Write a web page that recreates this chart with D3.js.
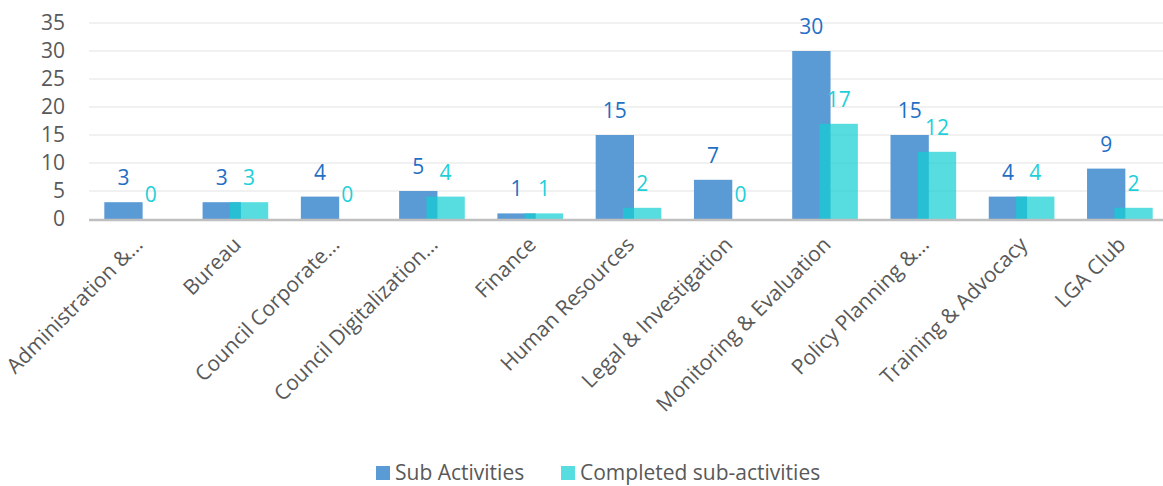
<!DOCTYPE html>
<html>
<head>
<meta charset="utf-8">
<script src="https://cdn.jsdelivr.net/npm/d3@7"></script>
<style>
  body { margin: 0; background: #fff; }
  svg { display: block; font-family: "Open Sans", sans-serif; }
</style>
</head>
<body>
<svg id="plot"></svg>
<script>
const WIDTH = 1163;
const HEIGHT = 486;

const categories = ['Administration &\u2026', 'Bureau', 'Council Corporate\u2026', 'Council Digitalization\u2026',
    'Finance', 'Human Resources', 'Legal & Investigation', 'Monitoring & Evaluation',
    'Policy Planning &\u2026', 'Training & Advocacy', 'LGA Club'];
const subActivities = [3, 3, 4, 5, 1, 15, 7, 30, 15, 4, 9];
const completed = [0, 3, 0, 4, 1, 2, 0, 17, 12, 4, 2];
const yTicks = [0, 5, 10, 15, 20, 25, 30, 35];
const seriesNames = ['Sub Activities', 'Completed sub-activities'];

const BLUE = '#5b9bd5';
const CYAN = '#10ced3';

function draw() {
    let chart = d3.select('#plot')
        .attr('width', WIDTH)
        .attr('height', HEIGHT);

    let x = d3.scaleBand()
        .domain(categories)
        .range([88, 1169]);

    let y = d3.scaleLinear()
        .domain([0, 35])
        .range([219, 23]);

    // gridlines
    chart.append('g')
        .selectAll('line')
        .data(yTicks.slice(1))
        .enter().append('line')
            .attr('x1', 89)
            .attr('x2', WIDTH)
            .attr('y1', d => y(d))
            .attr('y2', d => y(d))
            .attr('stroke', '#ececec')
            .attr('stroke-width', 1.5);

    // y axis labels
    let yAxis = chart.append('g')
        .attr('transform', 'translate(65, 0)')
        .call(d3.axisLeft(y).tickValues(yTicks).tickSize(0).tickPadding(0));
    yAxis.select('.domain').remove();
    yAxis.selectAll('text')
        .attr('font-family', '"Open Sans", sans-serif')
        .attr('font-size', 21)
        .attr('fill', '#595959');

    let bw = x.bandwidth() * 0.39;
    let overlap = 11;
    let blueX = d => x(d) + x.bandwidth() / 2 - bw + overlap / 2;
    let cyanX = d => x(d) + x.bandwidth() / 2 - overlap / 2;

    // bars
    chart.append('g')
        .selectAll('rect')
        .data(categories)
        .enter().append('rect')
            .attr('x', d => blueX(d))
            .attr('y', (d, i) => y(subActivities[i]))
            .attr('width', bw)
            .attr('height', (d, i) => y(0) - y(subActivities[i]))
            .attr('fill', BLUE);

    chart.append('g')
        .selectAll('rect')
        .data(categories)
        .enter().append('rect')
            .attr('x', d => cyanX(d))
            .attr('y', (d, i) => y(completed[i]))
            .attr('width', bw)
            .attr('height', (d, i) => y(0) - y(completed[i]))
            .attr('fill', CYAN)
            .attr('fill-opacity', 0.7);

    // value labels
    chart.append('g')
        .selectAll('text')
        .data(categories)
        .enter().append('text')
            .attr('x', d => blueX(d) + bw / 2)
            .attr('y', (d, i) => y(subActivities[i]) - 17)
            .attr('text-anchor', 'middle')
            .attr('font-size', 21)
            .attr('fill', '#1f6fc5')
            .text((d, i) => subActivities[i]);

    chart.append('g')
        .selectAll('text')
        .data(categories)
        .enter().append('text')
            .attr('x', d => cyanX(d) + bw / 2)
            .attr('y', (d, i) => y(completed[i]) - 17)
            .attr('text-anchor', 'middle')
            .attr('font-size', 21)
            .attr('fill', '#1fcfd8')
            .text((d, i) => completed[i]);

    // x axis line
    chart.append('line')
        .attr('x1', 89)
        .attr('x2', WIDTH)
        .attr('y1', y(0) + 1)
        .attr('y2', y(0) + 1)
        .attr('stroke', '#bfbfbf')
        .attr('stroke-width', 2.5);

    // category labels
    chart.append('g')
        .selectAll('text')
        .data(categories)
        .enter().append('text')
            .attr('transform', d => `translate(${x(d) + x.bandwidth() / 2 + 7}, 246) rotate(-45)`)
            .attr('text-anchor', 'end')
            .attr('font-size', 21)
            .attr('fill', '#595959')
            .text(d => d);

    // legend
    let legend = chart.append('g');
    let legendX = [376, 561];
    let colors = [BLUE, CYAN];
    seriesNames.forEach((name, i) => {
        legend.append('rect')
            .attr('x', legendX[i])
            .attr('y', 466)
            .attr('width', 14)
            .attr('height', 14)
            .attr('fill', colors[i])
            .attr('fill-opacity', i == 1 ? 0.7 : 1);
        legend.append('text')
            .attr('x', legendX[i] + 19)
            .attr('y', 480)
            .attr('font-size', 21)
            .attr('fill', '#595959')
            .text(name);
    });
}

window.onload = draw;
</script>
</body>
</html>
